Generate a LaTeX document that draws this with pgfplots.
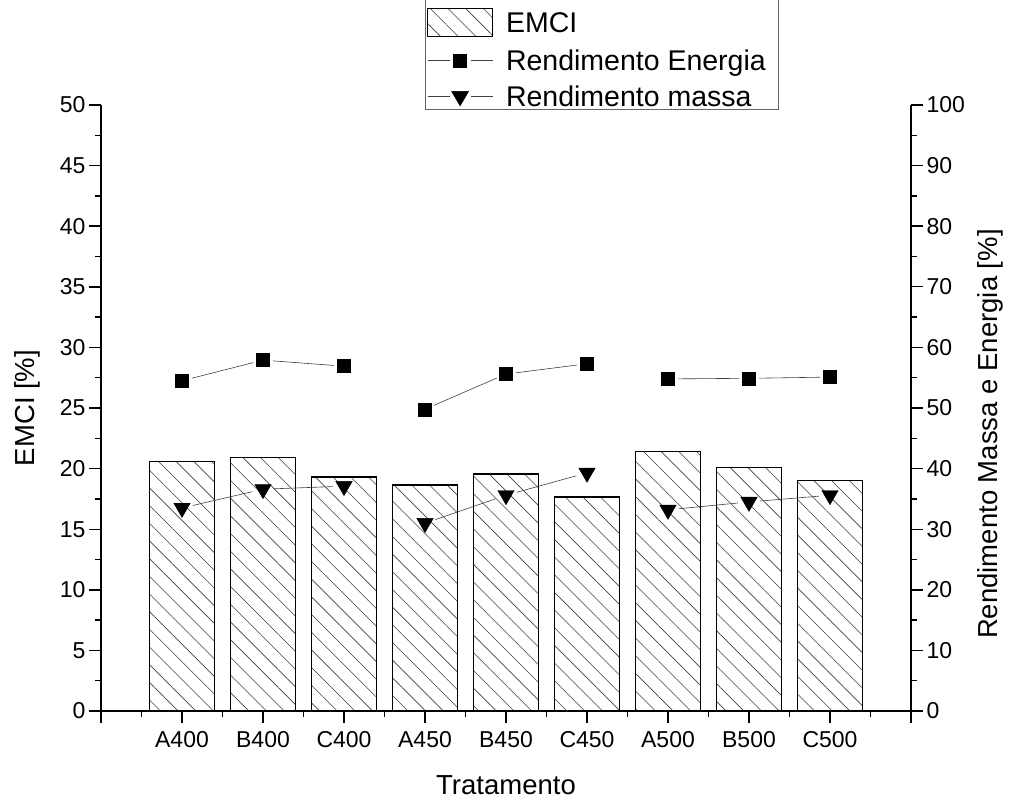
\documentclass[border=0pt]{standalone}
\usepackage{pgfplots}
\pgfplotsset{compat=1.18}
\usetikzlibrary{patterns.meta}
\usepackage{fontspec}
\setmainfont{Liberation Sans}
\begin{document}
\begin{tikzpicture}[x=1pt,y=1pt]
\useasboundingbox (-101,-87) rectangle (910,711);
\pgfplotsset{
  myax/.style={
    at={(0,0)}, anchor=south west,
    scale only axis, width=810pt, height=606pt,
    xmin=0, xmax=10, ymin=0,
    tick align=outside,
    major tick length=12pt, minor tick length=6pt,
    every tick/.style={line width=1.4pt, black},
    axis line style={line width=1.6pt},
    tick label style={font=\fontsize{23}{27}\selectfont},
    /pgf/number format/assume math mode=true,
    minor x tick num=1, minor y tick num=1,
  }
}
\begin{axis}[myax,
  axis x line*=bottom, axis y line*=left,
  ymax=50, ytick={0,5,...,50},
  xtick={0,...,10},
  xticklabels={,A400,B400,C400,A450,B450,C450,A500,B500,C500,},
  xticklabel style={yshift=-5pt},
  xlabel={Tratamento}, ylabel={EMCI [\%]},
  every axis x label/.style={at={(axis description cs:0.5,-0.122)}, anchor=center, font=\fontsize{27.5}{32}\selectfont},
  every axis y label/.style={at={(axis description cs:-0.0914,0.5)}, rotate=90, anchor=center, font=\fontsize{27.5}{32}\selectfont},
  ybar, bar width=0.8,
]
\addplot[draw=black, line width=1.2pt, pattern={Lines[angle=-45,distance=12.5pt,line width=0.6pt]}, pattern color=black!75]
  coordinates {(1,20.6) (2,20.9) (3,19.3) (4,18.65) (5,19.55) (6,17.65) (7,21.4) (8,20.1) (9,19.05)};
\end{axis}
\begin{axis}[myax,
  axis x line=none, axis y line*=right,
  ymax=100, ytick={0,10,...,100},
  xtick=\empty,
  ylabel={Rendimento Massa e Energia [\%]},
  every axis y label/.style={at={(axis description cs:1.0975,0.457)}, rotate=90, anchor=center, font=\fontsize{27.5}{32}\selectfont},
  legend style={at={(axis description cs:0.4,1.1634)}, anchor=north west, draw=none, name=leg,
    font=\fontsize{28.5}{33}\selectfont, row sep=10.5pt, column sep=11pt, inner sep=2pt,
    nodes={inner sep=2pt, text depth=1pt}},
  legend cell align=left,
  segE/.style={black!75, line width=0.6pt, shorten >=10pt, shorten <=10pt, forget plot},
  segM/.style={black!75, line width=0.6pt, shorten >=11pt, shorten <=11pt, forget plot},
]
\addlegendimage{legend image code/.code={\draw[black, line width=0.8pt, pattern={Lines[angle=-45,distance=12.5pt,line width=0.6pt]}, pattern color=black!75] (0pt,-14pt) rectangle (65pt,14pt);}}
\addlegendentry{EMCI}
\addlegendimage{legend image code/.code={\draw[black!75, line width=0.6pt] (0pt,0pt)--(22pt,0pt) (43pt,0pt)--(65pt,0pt); \fill[black] (26pt,-6.5pt) rectangle (39pt,6.5pt);}}
\addlegendentry{Rendimento Energia}
\addlegendimage{legend image code/.code={\draw[black!75, line width=0.6pt] (0pt,0pt)--(22pt,0pt) (43pt,0pt)--(65pt,0pt); \fill[black] (24pt,5pt) -- (41pt,5pt) -- (32.5pt,-9.5pt) -- cycle;}}
\addlegendentry{Rendimento massa}
% Rendimento Energia segments
\addplot[segE] coordinates {(1,54.5) (2,57.9)};
\addplot[segE] coordinates {(2,57.9) (3,56.9)};
\addplot[segE] coordinates {(4,49.8) (5,55.6)};
\addplot[segE] coordinates {(5,55.6) (6,57.3)};
\addplot[segE] coordinates {(7,54.8) (8,54.9)};
\addplot[segE] coordinates {(8,54.9) (9,55.1)};
\addplot[only marks, mark=square*, mark size=6.5pt, black, forget plot]
  coordinates {(1,54.5) (2,57.9) (3,56.9) (4,49.8) (5,55.6) (6,57.3) (7,54.8) (8,54.9) (9,55.1)};
% Rendimento massa segments
\addplot[segM] coordinates {(1,33.5) (2,36.6)};
\addplot[segM] coordinates {(2,36.6) (3,37.1)};
\addplot[segM] coordinates {(4,31.0) (5,35.6)};
\addplot[segM] coordinates {(5,35.6) (6,39.3)};
\addplot[segM] coordinates {(7,33.2) (8,34.5)};
\addplot[segM] coordinates {(8,34.5) (9,35.6)};
\addplot[only marks, mark=triangle*, mark size=9.5pt, mark options={rotate=180}, black, forget plot]
  coordinates {(1,33.5) (2,36.6) (3,37.1) (4,31.0) (5,35.6) (6,39.3) (7,33.2) (8,34.5) (9,35.6)};
\end{axis}
\draw[black!60, line width=0.8pt] ([yshift=20pt]leg.north west) -- ([yshift=2pt]leg.south west) -- ([xshift=8pt,yshift=2pt]leg.south east) -- ([xshift=8pt,yshift=20pt]leg.north east);
\end{tikzpicture}
\end{document}
